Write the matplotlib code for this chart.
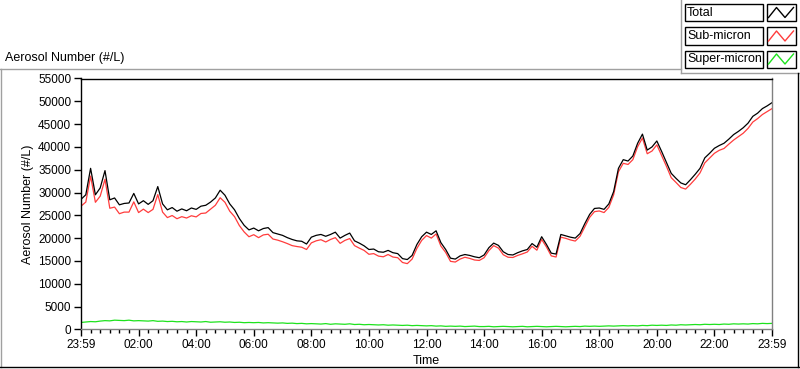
import numpy as np
import matplotlib
matplotlib.use("Agg")
import matplotlib.pyplot as plt
from matplotlib.lines import Line2D
from matplotlib.patches import Rectangle

# sampling grid: every 10 minutes from 23:59 to 23:59 (hours since start)
hours = np.arange(0, 145) / 6.0

total = [
    28500, 29500, 35300, 29500, 31000, 34800,
    28400, 28800, 27300, 27600, 27700, 29800,
    27500, 28200, 27400, 28200, 31300, 27500,
    26200, 26700, 25900, 26400, 26000, 26600,
    26300, 27000, 27200, 27900, 28800, 30500,
    29400, 27500, 26200, 24300, 22800, 21800,
    22200, 21600, 22100, 22300, 21200, 20900,
    20600, 20100, 19700, 19400, 19300, 18700,
    20200, 20600, 20800, 20400, 20800, 21300,
    20000, 20600, 21100, 19400, 18900, 18300,
    17500, 17600, 17000, 16900, 17300, 16800,
    16600, 15500, 15300, 16200, 18600, 20300,
    21300, 20800, 21600, 19000, 17500, 15600,
    15400, 16100, 16400, 16200, 15900, 15700,
    16300, 17900, 18900, 18400, 17000, 16400,
    16300, 16800, 17200, 17500, 18800, 18000,
    20300, 18600, 16700, 16500, 20800, 20500,
    20200, 20000, 21000, 23200, 25200, 26500,
    26600, 26300, 27500, 30200, 35300, 37200,
    36900, 38000, 40800, 42800, 39300, 40000,
    41300, 39000, 36600, 34200, 33100, 32100,
    31700, 32800, 34000, 35300, 37600, 38600,
    39700, 40300, 40800, 41700, 42700, 43400,
    44200, 45200, 46700, 47400, 48400, 49000,
    49700,
]

sub_micron = [
    27000, 27900, 33600, 27850, 29200, 32900,
    26550, 26800, 25350, 25700, 25700, 27950,
    25600, 26350, 25600, 26300, 29550, 25700,
    24500, 24950, 24250, 24700, 24400, 24900,
    24650, 25400, 25500, 26350, 27200, 28850,
    27850, 25900, 24700, 22750, 21350, 20300,
    20750, 20100, 20700, 20850, 19800, 19550,
    19200, 18800, 18350, 18150, 18000, 17500,
    18950, 19400, 19650, 19150, 19700, 20100,
    18850, 19500, 19900, 18350, 17800, 17300,
    16450, 16600, 16050, 15900, 16400, 15850,
    15700, 14650, 14400, 15400, 17750, 19500,
    20550, 20000, 20900, 18250, 16850, 14900,
    14750, 15400, 15800, 15550, 15200, 15100,
    15700, 17250, 18350, 17800, 16350, 15800,
    15750, 16200, 16550, 16950, 18200, 17350,
    19700, 18050, 16100, 15850, 20200, 19950,
    19600, 19350, 20400, 22500, 24550, 25800,
    25950, 25600, 26750, 29500, 34550, 36400,
    36150, 37200, 40050, 41950, 38500, 39100,
    40450, 38100, 35750, 33250, 32200, 31100,
    30750, 31800, 32950, 34300, 36500, 37550,
    38600, 39250, 39650, 40600, 41500, 42250,
    43000, 44050, 45450, 46200, 47100, 47750,
    48400,
]

super_micron = [
    1500, 1600, 1700, 1650, 1800, 1900,
    1850, 2000, 1950, 1900, 2000, 1850,
    1900, 1850, 1800, 1900, 1750, 1800,
    1700, 1750, 1650, 1700, 1600, 1700,
    1650, 1600, 1700, 1550, 1600, 1650,
    1550, 1600, 1500, 1550, 1450, 1500,
    1450, 1500, 1400, 1450, 1400, 1350,
    1400, 1300, 1350, 1250, 1300, 1200,
    1250, 1200, 1150, 1250, 1100, 1200,
    1150, 1100, 1200, 1050, 1100, 1000,
    1050, 1000, 950, 1000, 900, 950,
    900, 850, 900, 800, 850, 800,
    750, 800, 700, 750, 650, 700,
    650, 700, 600, 650, 700, 600,
    600, 650, 550, 600, 650, 600,
    550, 600, 650, 550, 600, 650,
    600, 550, 600, 650, 600, 550,
    600, 650, 600, 700, 650, 700,
    650, 700, 750, 700, 750, 800,
    750, 800, 750, 850, 800, 900,
    850, 900, 850, 950, 900, 1000,
    950, 1000, 1050, 1000, 1100, 1050,
    1100, 1050, 1150, 1100, 1200, 1150,
    1200, 1150, 1250, 1200, 1300, 1250,
    1300,
]

tick_hours = [0, 2, 4, 6, 8, 10, 12, 14, 16, 18, 20, 22, 24]
tick_labels = ["23:59", "02:00", "04:00", "06:00", "08:00", "10:00", "12:00",
               "14:00", "16:00", "18:00", "20:00", "22:00", "23:59"]
series_names = ["Total", "Sub-micron", "Super-micron"]
colors = ["#000000", "#ff3c3c", "#1de21d"]

plt.rcParams['font.family'] = ['Liberation Sans', 'DejaVu Sans']

W, H = 800, 369
fig = plt.figure(figsize=(8.0, 3.69), dpi=100)


def fx(px):
    return px / W


def fy(py):
    return 1 - py / H


ax = fig.add_axes([fx(81), fy(329.3), fx(772) - fx(81), fy(78.5) - fy(329.3)])

ax.plot(hours, sub_micron, color=colors[1], lw=0.9)
ax.plot(hours, total, color=colors[0], lw=0.9)
ax.plot(hours, super_micron, color=colors[2], lw=0.9)

ax.set_xlim(0, 24)
ax.set_ylim(0, 55000)
ax.set_yticks(np.arange(0, 55001, 5000))
ax.set_yticklabels([str(v) for v in range(0, 55001, 5000)])
ax.set_xticks(tick_hours)
ax.set_xticklabels(tick_labels)
ax.set_xticks(np.arange(0, 24.01, 1 / 3), minor=True)
ax.tick_params(axis='both', which='major', length=5, width=1, labelsize=8.5, pad=2)
ax.tick_params(axis='x', which='minor', length=3, width=1)
ax.spines['left'].set_color('black')
ax.spines['top'].set_color('black')
ax.spines['right'].set_color('#808080')
ax.spines['bottom'].set_color('#808080')
for s in ax.spines.values():
    s.set_linewidth(1)

ax.set_ylabel("Aerosol Number (#/L)", fontsize=9, labelpad=3)
ax.set_xlabel("Time", fontsize=9, labelpad=3)

# title-like caption above the plot
fig.text(fx(5), fy(58), "Aerosol Number (#/L)", fontsize=9, va='center', ha='left')

# panel frame
frame = [
    ((0, 69), (681, 69), '#a0a0a0'),
    ((681, 0), (681, 73), '#a0a0a0'),
    ((681, 73), (800, 73), '#a0a0a0'),
    ((1, 69), (1, 367), '#a0a0a0'),
    ((0, 367), (800, 367), 'black'),
    ((798, 73), (798, 367), 'black'),
]
for (x0, y0), (x1, y1), c in frame:
    fig.add_artist(Line2D([fx(x0), fx(x1)], [fy(y0), fy(y1)], color=c, lw=1))

# legend boxes
box_tops = [4, 27.5, 50.5]
for name, col, top in zip(series_names, colors, box_tops):
    fig.add_artist(Rectangle((fx(685), fy(top + 17)), fx(763) - fx(685), fy(top) - fy(top + 17),
                             facecolor='white', edgecolor='black', lw=1))
    fig.add_artist(Rectangle((fx(766.5), fy(top + 17)), fx(795.5) - fx(766.5), fy(top) - fy(top + 17),
                             facecolor='white', edgecolor='black', lw=1))
    fig.text(fx(687), fy(top + 8.5), name, fontsize=9, va='center', ha='left')
    zx = [768.5, 776.5, 785, 793.5]
    zy = [top + 13.5, top + 3.5, top + 13.5, top + 3.5]
    fig.add_artist(Line2D([fx(v) for v in zx], [fy(v) for v in zy], color=col, lw=1))

fig.savefig("out.png", dpi=100, facecolor='white')
